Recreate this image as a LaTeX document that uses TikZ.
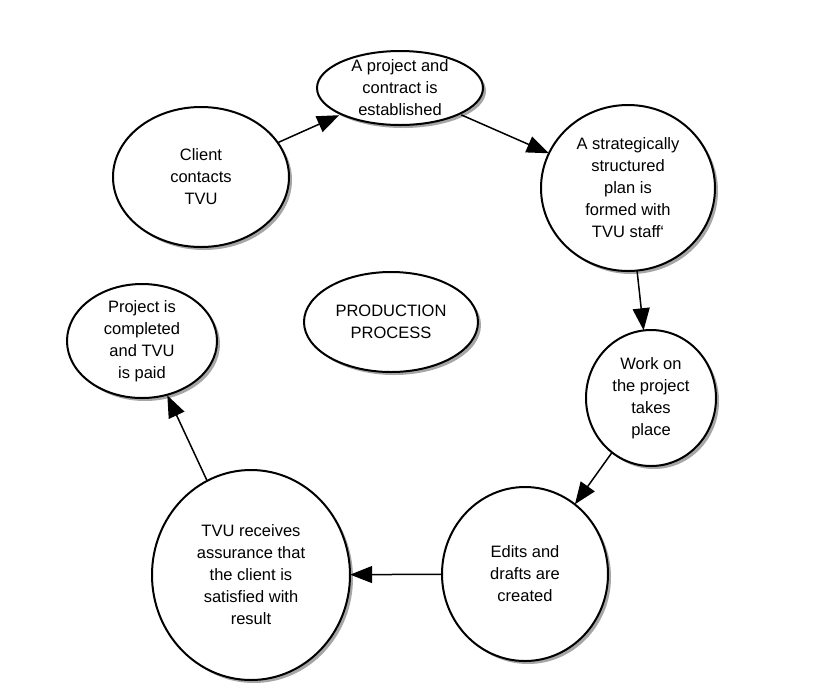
\documentclass[tikz,border=0pt]{standalone}
\usepackage{fontspec}
\setmainfont{Liberation Sans}
\usetikzlibrary{shapes.geometric,arrows.meta}
\begin{document}
\begin{tikzpicture}[x=1pt,y=-1pt,
  arr/.style={line width=1.5pt,-{Triangle[length=22pt,width=17pt]}}]
\useasboundingbox (0,0) rectangle (827,697);
\newcommand{\myell}[6]{%
  \fill[black!35] (#2+3,#3+3) ellipse [x radius=#4,y radius=#5];
  \draw[line width=2pt,fill=white] (#2,#3) ellipse [x radius=#4,y radius=#5];
  \node[align=center,font=\fontsize{16.5}{22}\selectfont,inner sep=0pt,
    ellipse,minimum width=2*#4,minimum height=2*#5] (#1) at (#2,#3) {#6};}
\myell{a}{201}{177}{88}{70}{Client\\contacts\\TVU}
\myell{b}{400}{88}{83}{37}{A project and\\contract is\\established}
\myell{c}{628}{188}{87}{83}{A strategically\\structured\\plan is\\formed with\\TVU staff`}
\myell{p}{391}{322}{87}{50}{PRODUCTION\\PROCESS}
\myell{g}{142}{341}{75}{57}{Project is\\completed\\and TVU\\is paid}
\myell{d}{651}{398}{65}{68}{Work on\\the project\\takes\\place}
\myell{e}{525}{574}{83}{87}{Edits and\\drafts are\\created}
\myell{f}{251}{575}{99}{105}{TVU receives\\assurance that\\the client is\\satisfied with\\result}
\draw[arr] (a) -- (b);
\draw[arr] (b) -- (c);
\draw[arr] (c) -- (d);
\draw[arr] (d) -- (e);
\draw[arr] (e) -- (f);
\draw[arr] (f) -- (g);
\end{tikzpicture}
\end{document}
